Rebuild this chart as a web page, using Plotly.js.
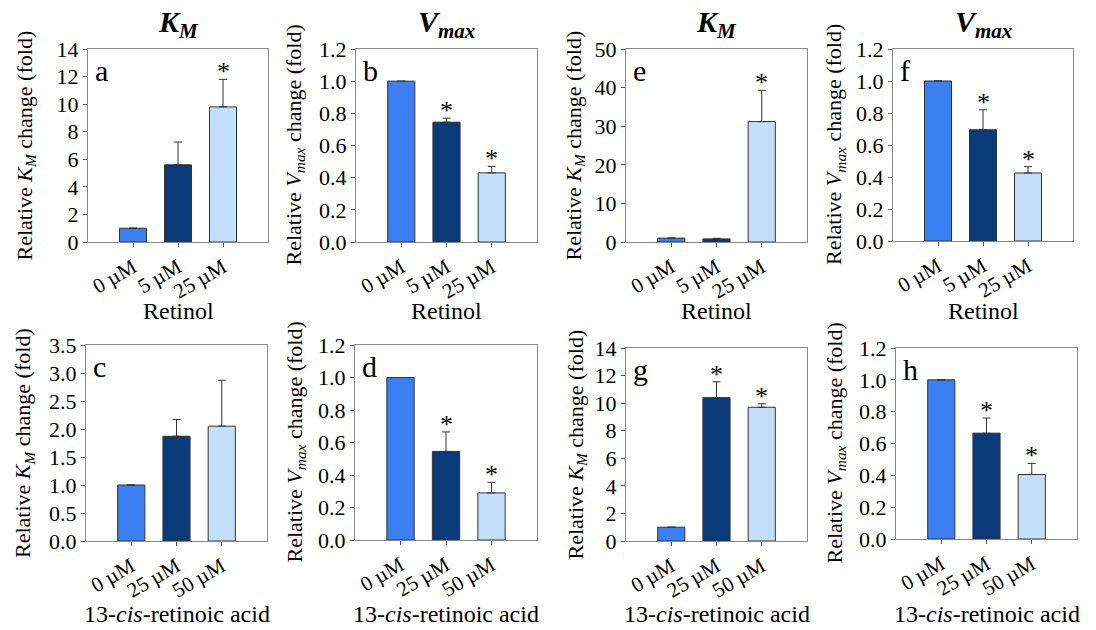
<!DOCTYPE html>
<html>
<head>
<meta charset="utf-8">
<script src="https://cdn.plot.ly/plotly-3.0.1.min.js"></script>
<style>html,body{margin:0;padding:0;background:#fff;}#chart{width:1096px;height:630px;}</style>
</head>
<body>
<div id="chart"></div>
<script>
// ---- data ----
const catsRetinol = ['0 µM', '5 µM', '25 µM'];
const catsCis = ['0 µM', '25 µM', '50 µM'];

const kmA = [1.0, 5.6, 9.8];
const kmAErr = [null, 1.65, 2.0];
const kmAStar = [false, false, true];

const vmaxB = [1.0, 0.745, 0.43];
const vmaxBErr = [null, 0.025, 0.04];
const vmaxBStar = [false, true, true];

const kmC = [1.0, 1.87, 2.05];
const kmCErr = [null, 0.30, 0.82];
const kmCStar = [false, false, false];

const vmaxD = [1.0, 0.545, 0.29];
const vmaxDErr = [null, 0.12, 0.065];
const vmaxDStar = [false, true, true];

const kmE = [1.0, 0.8, 31.2];
const kmEErr = [null, 0.15, 8.1];
const kmEStar = [false, false, true];

const vmaxF = [1.0, 0.695, 0.425];
const vmaxFErr = [null, 0.125, 0.04];
const vmaxFStar = [false, true, true];

const kmG = [1.0, 10.4, 9.7];
const kmGErr = [null, 1.15, 0.25];
const kmGStar = [false, true, true];

const vmaxH = [1.0, 0.665, 0.405];
const vmaxHErr = [null, 0.095, 0.07];
const vmaxHStar = [false, true, true];

const barColors = ['#3b7ff2', '#0b3a78', '#c4dffa'];

// ---- panels ----
const W = 1096, H = 630;
const panels = [
  {letter:'a', cats:catsRetinol, vals:kmA, errs:kmAErr, stars:kmAStar, ymax:14, dtick:2, fmt:'d', kind:'KM', xt:'Retinol', px:[88,268], py:[49,242], ytx:26},
  {letter:'b', cats:catsRetinol, vals:vmaxB, errs:vmaxBErr, stars:vmaxBStar, ymax:1.2, dtick:0.2, fmt:'.1f', kind:'V', xt:'Retinol', px:[356,537], py:[49,242], ytx:295},
  {letter:'c', cats:catsCis, vals:kmC, errs:kmCErr, stars:kmCStar, ymax:3.5, dtick:0.5, fmt:'.1f', kind:'KM', xt:'cis', px:[86,267], py:[345,541], ytx:24},
  {letter:'d', cats:catsCis, vals:vmaxD, errs:vmaxDErr, stars:vmaxDStar, ymax:1.2, dtick:0.2, fmt:'.1f', kind:'V', xt:'cis', px:[355,537], py:[345,540], ytx:295},
  {letter:'e', cats:catsRetinol, vals:kmE, errs:kmEErr, stars:kmEStar, ymax:50, dtick:10, fmt:'d', kind:'KM', xt:'Retinol', px:[626,807], py:[49,242], ytx:575},
  {letter:'f', cats:catsRetinol, vals:vmaxF, errs:vmaxFErr, stars:vmaxFStar, ymax:1.2, dtick:0.2, fmt:'.1f', kind:'V', xt:'Retinol', px:[893,1073], py:[49,241], ytx:835},
  {letter:'g', cats:catsCis, vals:kmG, errs:kmGErr, stars:kmGStar, ymax:14, dtick:2, fmt:'d', kind:'KM', xt:'cis', px:[626,807], py:[348,541], ytx:576},
  {letter:'h', cats:catsCis, vals:vmaxH, errs:vmaxHErr, stars:vmaxHStar, ymax:1.2, dtick:0.2, fmt:'.1f', kind:'V', xt:'cis', px:[896,1077], py:[348,539], ytx:835}
];

const serif = '"Liberation Serif", serif';
const data = [];
const layout = {
  width: W, height: H,
  margin: {l:0, r:0, t:0, b:0},
  paper_bgcolor: '#fff', plot_bgcolor: '#fff',
  showlegend: false,
  font: {family: serif, color: '#000', size: 21},
  annotations: [],
  bargap: 0.4
};

const ytitle = {
  KM: 'Relative <i>K</i><sub><i>M</i></sub> change (fold)',
  V: 'Relative <i>V</i><sub><i>max</i></sub> change (fold)'
};
const xtitle = {
  Retinol: 'Retinol',
  cis: '13-<i>cis</i>-retinoic acid'
};

panels.forEach((p, i) => {
  const n = i === 0 ? '' : String(i + 1);
  const xa = 'xaxis' + n, ya = 'yaxis' + n;
  data.push({
    type: 'bar', x: p.cats, y: p.vals, xaxis: 'x' + n, yaxis: 'y' + n,
    width: 0.6,
    marker: {color: barColors, line: {color: '#333', width: 1}},
    error_y: {type: 'data', array: p.errs, arrayminus: p.errs.map(() => 0), symmetric: false,
              color: '#333', thickness: 1, width: 4, visible: true},
    hoverinfo: 'skip'
  });
  layout[xa] = {
    domain: [p.px[0] / W, p.px[1] / W], anchor: 'y' + n,
    type: 'category', range: [-1, 3], fixedrange: true,
    showline: true, mirror: true, linecolor: '#8a8a8a', linewidth: 1,
    ticks: 'outside', ticklen: 4, tickcolor: '#555', tickangle: -30,
    tickfont: {family: serif, size: 21, color: '#000'},
    showgrid: false, zeroline: false
  };
  layout[ya] = {
    domain: [1 - p.py[1] / H, 1 - p.py[0] / H], anchor: 'x' + n,
    range: [0, p.ymax], dtick: p.dtick, tick0: 0, tickformat: p.fmt, fixedrange: true,
    showline: true, mirror: true, linecolor: '#8a8a8a', linewidth: 1,
    ticks: 'outside', ticklen: 4, tickcolor: '#555',
    tickfont: {family: serif, size: 22, color: '#000'},
    showgrid: false, zeroline: false
  };
  // panel letter
  layout.annotations.push({
    text: p.letter, xref: 'x' + n + ' domain', yref: 'y' + n + ' domain',
    x: 0.03, y: 0.985, xanchor: 'left', yanchor: 'top', showarrow: false,
    font: {family: serif, size: 30, color: '#000'}
  });
  // y title
  layout.annotations.push({
    text: ytitle[p.kind], xref: 'paper', yref: 'y' + n + ' domain',
    x: p.ytx / W, y: 0.5, xanchor: 'center', yanchor: 'middle', textangle: -90,
    showarrow: false, font: {family: serif, size: 22, color: '#000'}
  });
  // x title
  const topRow = p.py[0] < 200;
  layout.annotations.push({
    text: xtitle[p.xt], xref: 'x' + n + ' domain', yref: 'paper',
    x: 0.5, y: 1 - (topRow ? 311 : 614) / H, xanchor: 'center', yanchor: 'middle',
    showarrow: false, font: {family: serif, size: 24, color: '#000'}
  });
  // column titles
  if (topRow) {
    layout.annotations.push({
      text: p.kind === 'KM' ? '<b><i>K<sub>M</sub></i></b>' : '<b><i>V<sub>max</sub></i></b>',
      xref: 'x' + n + ' domain', yref: 'paper', x: 0.5, y: 1 - 24 / H,
      xanchor: 'center', yanchor: 'middle', showarrow: false,
      font: {family: serif, size: 30, color: '#000'}
    });
  }
  // significance stars
  p.stars.forEach((s, k) => {
    if (!s) return;
    layout.annotations.push({
      text: '*', xref: 'x' + n, yref: 'y' + n,
      x: p.cats[k], y: p.vals[k] + (p.errs[k] || 0),
      xanchor: 'center', yanchor: 'bottom', yshift: -9, showarrow: false,
      font: {family: serif, size: 26, color: '#000'}
    });
  });
});

Plotly.newPlot('chart', data, layout, {displayModeBar: false, staticPlot: true});
</script>
</body>
</html>
